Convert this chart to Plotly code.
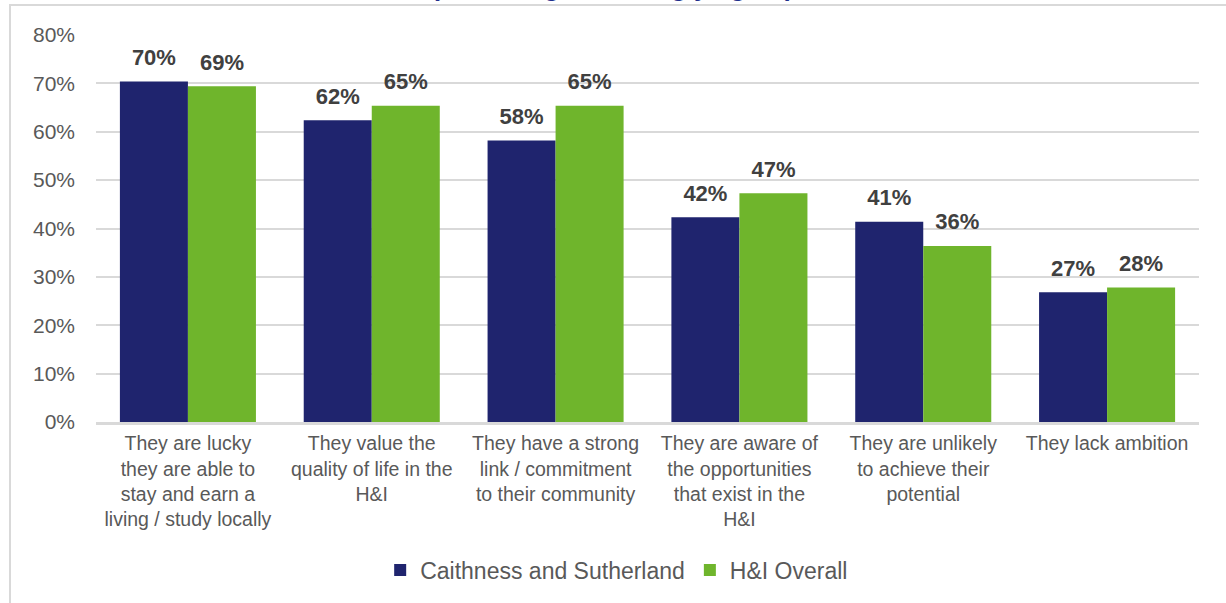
import plotly.graph_objects as go

# Survey statements (x categories)
categories = [
    "They are lucky<br>they are able to<br>stay and earn a<br>living / study locally",
    "They value the<br>quality of life in the<br>H&amp;I",
    "They have a strong<br>link / commitment<br>to their community",
    "They are aware of<br>the opportunities<br>that exist in the<br>H&amp;I",
    "They are unlikely<br>to achieve their<br>potential",
    "They lack ambition",
]

# Share agreeing with each statement (%)
caithness_sutherland = [70.4, 62.4, 58.2, 42.3, 41.4, 26.8]
hi_overall = [69.4, 65.4, 65.4, 47.3, 36.4, 27.8]

series_names = ["Caithness and Sutherland", "H&amp;I Overall"]
series_colors = ["#1F246E", "#6FB52C"]

y_ticks = [0, 10, 20, 30, 40, 50, 60, 70, 80]
y_tick_labels = ["0%", "10%", "20%", "30%", "40%", "50%", "60%", "70%", "80%"]
title_text = "<b>(% who agree/strongly agree)</b>"

FONT = "Liberation Sans, Arial, sans-serif"
W, H = 1226, 603
ML, MR, MT, MB = 96, 27, 35, 181
PW, PH = W - ML - MR, H - MT - MB


def px_to_paper_x(px):
    return (px - ML) / PW


def px_to_paper_y(py):
    return (H - MB - py) / PH


fig = go.Figure()

for name, vals, col in zip(series_names, [caithness_sutherland, hi_overall], series_colors):
    fig.add_trace(go.Bar(
        x=categories, y=vals, name=name,
        marker=dict(color=col, line=dict(width=0)),
        offsetgroup=name,
    ))

# value labels above each bar, grouped the same way as the bars
for name, vals in zip(series_names, [caithness_sutherland, hi_overall]):
    fig.add_trace(go.Scatter(
        x=categories, y=vals, mode="markers+text",
        text=[f"{v:.0f}%" for v in vals],
        textposition="top center",
        texttemplate="<b>%{text}</b>",
        textfont=dict(family=FONT, size=22, color="#404040"),
        marker=dict(size=16, opacity=0),
        offsetgroup=name,
        showlegend=False, hoverinfo="skip", cliponaxis=False,
    ))

fig.update_layout(
    width=W, height=H,
    margin=dict(l=ML, r=MR, t=MT, b=MB, pad=0),
    paper_bgcolor="white", plot_bgcolor="white",
    barmode="group", bargap=0.26, bargroupgap=0,
    scattermode="group", scattergap=0.26,
    font=dict(family=FONT, color="#595959"),
    showlegend=True,
    legend=dict(
        orientation="h", xref="container", yref="container",
        x=0.503, y=1 - 570 / H, xanchor="center", yanchor="middle",
        font=dict(family=FONT, size=23, color="#595959"),
        itemwidth=30, tracegroupgap=0,
    ),
    xaxis=dict(
        showgrid=False, showline=True, linecolor="#D9D9D9", linewidth=3,
        tickfont=dict(family=FONT, size=19.5, color="#595959"),
        ticks="", ticklabelstandoff=2,
    ),
    yaxis=dict(
        range=[0, 80], tickmode="array", tickvals=y_ticks, ticktext=y_tick_labels,
        showgrid=True, gridcolor="#D9D9D9", gridwidth=1.6,
        zeroline=False, showline=False, ticks="",
        tickfont=dict(family=FONT, size=21, color="#595959"),
        ticklabelstandoff=20,
    ),
    shapes=[dict(
        type="rect", xref="paper", yref="paper", layer="below",
        x0=px_to_paper_x(10), x1=px_to_paper_x(W + 20),
        y0=px_to_paper_y(H + 20), y1=px_to_paper_y(5),
        line=dict(color="#D9D9D9", width=2), fillcolor="rgba(0,0,0,0)",
    )],
    annotations=[dict(
        text=title_text, xref="paper", yref="paper",
        x=px_to_paper_x(612), y=px_to_paper_y(4),
        xanchor="center", yanchor="bottom", showarrow=False,
        font=dict(family=FONT, size=26, color="#1F2F8C"),
    )],
)

fig.write_html("out.html")
